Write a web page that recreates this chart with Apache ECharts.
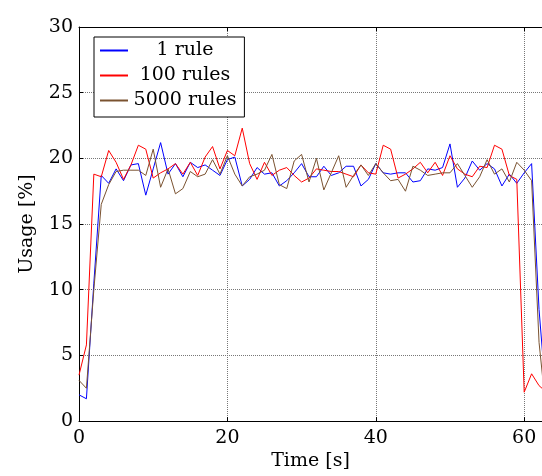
<!DOCTYPE html>
<html>
<head>
<meta charset="utf-8">
<script src="https://cdn.jsdelivr.net/npm/echarts@6/dist/echarts.min.js"></script>
<style>
  html, body { margin: 0; padding: 0; background: #fff; }
  #chart { width: 542px; height: 476px; }
</style>
</head>
<body>
<div id="chart"></div>
<script>
// time in seconds
var seconds = [0, 1, 2, 3, 4, 5, 6, 7, 8, 9, 10, 11, 12, 13, 14, 15, 16, 17, 18, 19, 20,
  21, 22, 23, 24, 25, 26, 27, 28, 29, 30, 31, 32, 33, 34, 35, 36, 37, 38, 39, 40,
  41, 42, 43, 44, 45, 46, 47, 48, 49, 50, 51, 52, 53, 54, 55, 56, 57, 58, 59, 60,
  61, 62, 63];

// usage [%]
var rules1 = [2.0, 1.7, 10.5, 18.7, 18.1, 19.2, 18.3, 19.5, 19.6, 17.2, 19.2,
  21.2, 18.8, 19.6, 18.6, 19.7, 19.3, 19.5, 19.1, 18.7, 19.9,
  20.1, 17.9, 18.4, 19.3, 18.8, 18.9, 17.9, 18.3, 18.9, 19.6,
  18.6, 18.6, 19.4, 18.7, 18.9, 19.4, 19.4, 17.9, 18.4, 19.6,
  18.9, 18.8, 18.9, 18.9, 18.2, 18.3, 19.2, 19.1, 19.3, 21.1,
  17.8, 18.5, 19.8, 19.1, 19.6, 19.2, 17.9, 18.8, 18.1, 18.9,
  19.6, 8.5, 1.5];

var rules100 = [3.5, 5.8, 18.8, 18.6, 20.6, 19.7, 18.4, 19.5, 21.0, 20.7, 18.5,
  18.9, 19.2, 19.6, 18.8, 19.7, 18.7, 20.1, 20.9, 19.2, 20.6,
  20.2, 22.3, 19.6, 18.4, 19.7, 18.7, 19.1, 19.3, 18.7, 18.2,
  18.5, 19.2, 19.1, 19.0, 19.0, 18.8, 18.6, 19.5, 18.9, 18.8,
  21.0, 20.7, 18.5, 18.8, 19.2, 19.7, 18.9, 19.7, 18.7, 20.2,
  19.2, 18.8, 18.6, 19.4, 19.3, 21.0, 20.7, 18.7, 18.4, 2.2,
  3.6, 2.7, 2.2];

var rules5000 = [3.1, 2.5, 10.0, 16.5, 18.0, 19.0, 19.1, 19.1, 19.1, 18.7, 20.7,
  17.8, 19.2, 17.3, 17.7, 19.0, 18.6, 18.8, 19.9, 18.8, 20.2,
  18.8, 17.9, 18.6, 18.8, 19.1, 20.3, 18.0, 17.7, 19.8, 20.3,
  18.2, 20.0, 17.6, 18.9, 20.2, 17.8, 18.7, 19.5, 18.7, 19.6,
  18.9, 18.3, 18.4, 17.5, 19.4, 19.1, 18.7, 18.8, 18.9, 18.9,
  19.6, 18.7, 17.8, 18.6, 19.9, 18.8, 19.2, 18.2, 19.7, 19.1,
  18.3, 6.0, 0.5];

var seriesNames = ['1 rule', '100 rules', '5000 rules'];
var seriesColors = ['#0000ff', '#ff0000', '#7a5230'];

var FONT = 'DejaVu Serif';

function pairs(values) {
  return seconds.map(function (t, i) { return [t, values[i]]; });
}

var chart = echarts.init(document.getElementById('chart'));

// the picture is cut at the right, so the frame has no right side
var frameLine = { show: true, lineStyle: { color: '#000', width: 1 } };

var option = {
  animation: false,
  backgroundColor: '#fff',
  grid: {
    left: 79,
    top: 27,
    bottom: 54,
    right: 0
  },
  legend: {
    orient: 'vertical',
    left: 94,
    top: 37,
    padding: [4, 8, 7, 6],
    itemGap: 6,
    itemWidth: 28,
    itemHeight: 2,
    icon: 'rect',
    backgroundColor: '#fff',
    borderColor: '#000',
    borderWidth: 1,
    itemStyle: { borderWidth: 0 },
    data: seriesNames.map(function (n, i) {
      return { name: n, itemStyle: { color: seriesColors[i], borderWidth: 0 } };
    }),
    formatter: function (name) {
      return '{c|' + name + '}';
    },
    textStyle: {
      fontFamily: FONT,
      fontSize: 19,
      color: '#000',
      rich: {
        c: { width: 104, align: 'center', fontFamily: FONT, fontSize: 19, color: '#000' }
      }
    }
  },
  xAxis: [
    {
      type: 'value',
      min: 0,
      max: 62.4,
      interval: 20,
      name: 'Time [s]',
      nameLocation: 'middle',
      nameGap: 30,
      nameTextStyle: { fontFamily: FONT, fontSize: 19, color: '#000' },
      axisLine: frameLine,
      axisTick: { show: true, inside: true, length: 4, lineStyle: { color: '#000' } },
      axisLabel: { fontFamily: FONT, fontSize: 19, color: '#000', margin: 7, showMaxLabel: false },
      splitLine: { show: true, lineStyle: { type: 'dotted', color: '#777', width: 1 } }
    },
    {
      type: 'value',
      position: 'top',
      min: 0,
      max: 62.4,
      interval: 20,
      axisLine: frameLine,
      axisTick: { show: true, inside: true, length: 4, lineStyle: { color: '#000' } },
      axisLabel: { show: false },
      splitLine: { show: false }
    }
  ],
  yAxis: {
    type: 'value',
    min: 0,
    max: 30,
    interval: 5,
    name: 'Usage [%]',
    nameLocation: 'middle',
    nameGap: 42,
    nameTextStyle: { fontFamily: FONT, fontSize: 19, color: '#000' },
    axisLine: frameLine,
    axisTick: { show: true, inside: true, length: 4, lineStyle: { color: '#000' } },
    axisLabel: { fontFamily: FONT, fontSize: 19, color: '#000', margin: 6 },
    splitLine: { show: true, lineStyle: { type: 'dotted', color: '#777', width: 1 } }
  },
  series: [rules1, rules100, rules5000].map(function (vals, i) {
    return {
      name: seriesNames[i],
      type: 'line',
      data: pairs(vals),
      showSymbol: false,
      symbol: 'none',
      itemStyle: { color: seriesColors[i] },
      lineStyle: { width: 1, color: seriesColors[i] }
    };
  })
};

chart.setOption(option);
</script>
</body>
</html>
